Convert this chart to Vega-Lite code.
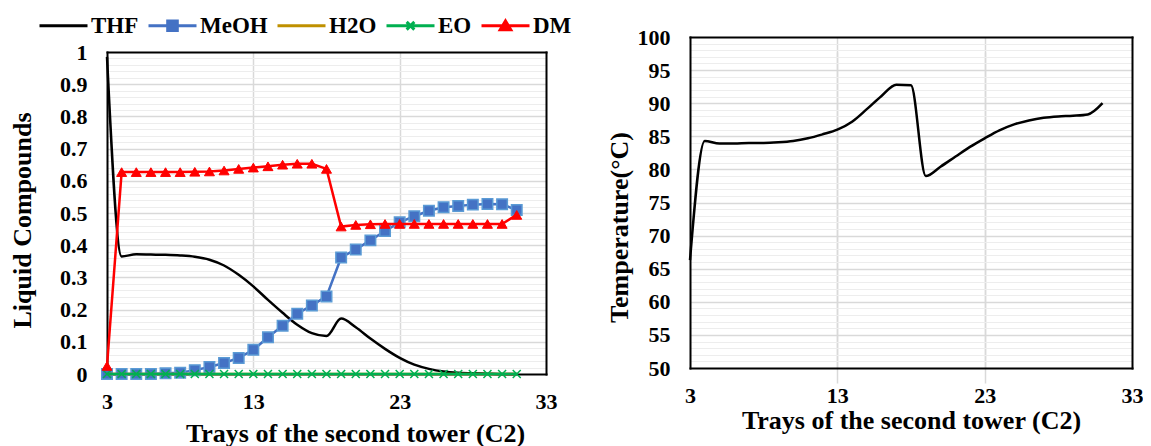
{
  "$schema": "https://vega.github.io/schema/vega-lite/v6.json",
  "background": "white",
  "padding": {"left": 9, "top": 0, "right": 0, "bottom": 0},
  "spacing": 49,
  "config": {
    "view": {"stroke": null},
    "axis": {
      "labelFont": "Liberation Serif", "labelFontWeight": "bold", "labelFontSize": 22, "labelColor": "#000000",
      "titleFont": "Liberation Serif", "titleFontWeight": "bold", "titleFontSize": 26, "titleColor": "#000000",
      "domain": false, "ticks": false, "tickSize": 0, "gridColor": "#D9D9D9", "gridWidth": 1.5,
      "labelFlush": false, "labelOverlap": false
    }
  },
  "datasets": {
    "comp": [
      {"tray":3,"series":"THF","value":0.985},{"tray":4,"series":"THF","value":0.365},{"tray":5,"series":"THF","value":0.372},{"tray":6,"series":"THF","value":0.371},{"tray":7,"series":"THF","value":0.370},{"tray":8,"series":"THF","value":0.368},{"tray":9,"series":"THF","value":0.364},{"tray":10,"series":"THF","value":0.355},{"tray":11,"series":"THF","value":0.337},{"tray":12,"series":"THF","value":0.308},{"tray":13,"series":"THF","value":0.272},{"tray":14,"series":"THF","value":0.230},{"tray":15,"series":"THF","value":0.190},{"tray":16,"series":"THF","value":0.153},{"tray":17,"series":"THF","value":0.127},{"tray":18,"series":"THF","value":0.118},{"tray":19,"series":"THF","value":0.172},{"tray":20,"series":"THF","value":0.145},{"tray":21,"series":"THF","value":0.110},{"tray":22,"series":"THF","value":0.078},{"tray":23,"series":"THF","value":0.050},{"tray":24,"series":"THF","value":0.029},{"tray":25,"series":"THF","value":0.016},{"tray":26,"series":"THF","value":0.008},{"tray":27,"series":"THF","value":0.004},{"tray":28,"series":"THF","value":0.002},{"tray":29,"series":"THF","value":0.001},{"tray":30,"series":"THF","value":0.000},{"tray":31,"series":"THF","value":0.000},
      {"tray":3,"series":"MeOH","value":0.000},{"tray":4,"series":"MeOH","value":0.000},{"tray":5,"series":"MeOH","value":0.000},{"tray":6,"series":"MeOH","value":0.000},{"tray":7,"series":"MeOH","value":0.002},{"tray":8,"series":"MeOH","value":0.004},{"tray":9,"series":"MeOH","value":0.012},{"tray":10,"series":"MeOH","value":0.022},{"tray":11,"series":"MeOH","value":0.034},{"tray":12,"series":"MeOH","value":0.050},{"tray":13,"series":"MeOH","value":0.075},{"tray":14,"series":"MeOH","value":0.114},{"tray":15,"series":"MeOH","value":0.150},{"tray":16,"series":"MeOH","value":0.187},{"tray":17,"series":"MeOH","value":0.213},{"tray":18,"series":"MeOH","value":0.241},{"tray":19,"series":"MeOH","value":0.362},{"tray":20,"series":"MeOH","value":0.387},{"tray":21,"series":"MeOH","value":0.415},{"tray":22,"series":"MeOH","value":0.444},{"tray":23,"series":"MeOH","value":0.471},{"tray":24,"series":"MeOH","value":0.490},{"tray":25,"series":"MeOH","value":0.507},{"tray":26,"series":"MeOH","value":0.518},{"tray":27,"series":"MeOH","value":0.522},{"tray":28,"series":"MeOH","value":0.526},{"tray":29,"series":"MeOH","value":0.528},{"tray":30,"series":"MeOH","value":0.527},{"tray":31,"series":"MeOH","value":0.509},
      {"tray":3,"series":"H2O","value":0},{"tray":4,"series":"H2O","value":0},{"tray":5,"series":"H2O","value":0},{"tray":6,"series":"H2O","value":0},{"tray":7,"series":"H2O","value":0},{"tray":8,"series":"H2O","value":0},{"tray":9,"series":"H2O","value":0},{"tray":10,"series":"H2O","value":0},{"tray":11,"series":"H2O","value":0},{"tray":12,"series":"H2O","value":0},{"tray":13,"series":"H2O","value":0},{"tray":14,"series":"H2O","value":0},{"tray":15,"series":"H2O","value":0},{"tray":16,"series":"H2O","value":0},{"tray":17,"series":"H2O","value":0},{"tray":18,"series":"H2O","value":0},{"tray":19,"series":"H2O","value":0},{"tray":20,"series":"H2O","value":0},{"tray":21,"series":"H2O","value":0},{"tray":22,"series":"H2O","value":0},{"tray":23,"series":"H2O","value":0},{"tray":24,"series":"H2O","value":0},{"tray":25,"series":"H2O","value":0},{"tray":26,"series":"H2O","value":0},{"tray":27,"series":"H2O","value":0},{"tray":28,"series":"H2O","value":0},{"tray":29,"series":"H2O","value":0},{"tray":30,"series":"H2O","value":0},{"tray":31,"series":"H2O","value":0},
      {"tray":3,"series":"EO","value":0},{"tray":4,"series":"EO","value":0},{"tray":5,"series":"EO","value":0},{"tray":6,"series":"EO","value":0},{"tray":7,"series":"EO","value":0},{"tray":8,"series":"EO","value":0},{"tray":9,"series":"EO","value":0},{"tray":10,"series":"EO","value":0},{"tray":11,"series":"EO","value":0},{"tray":12,"series":"EO","value":0},{"tray":13,"series":"EO","value":0},{"tray":14,"series":"EO","value":0},{"tray":15,"series":"EO","value":0},{"tray":16,"series":"EO","value":0},{"tray":17,"series":"EO","value":0},{"tray":18,"series":"EO","value":0},{"tray":19,"series":"EO","value":0},{"tray":20,"series":"EO","value":0},{"tray":21,"series":"EO","value":0},{"tray":22,"series":"EO","value":0},{"tray":23,"series":"EO","value":0},{"tray":24,"series":"EO","value":0},{"tray":25,"series":"EO","value":0},{"tray":26,"series":"EO","value":0},{"tray":27,"series":"EO","value":0},{"tray":28,"series":"EO","value":0},{"tray":29,"series":"EO","value":0},{"tray":30,"series":"EO","value":0},{"tray":31,"series":"EO","value":0},
      {"tray":3,"series":"DM","value":0.025},{"tray":4,"series":"DM","value":0.627},{"tray":5,"series":"DM","value":0.627},{"tray":6,"series":"DM","value":0.627},{"tray":7,"series":"DM","value":0.627},{"tray":8,"series":"DM","value":0.627},{"tray":9,"series":"DM","value":0.628},{"tray":10,"series":"DM","value":0.629},{"tray":11,"series":"DM","value":0.632},{"tray":12,"series":"DM","value":0.637},{"tray":13,"series":"DM","value":0.641},{"tray":14,"series":"DM","value":0.645},{"tray":15,"series":"DM","value":0.650},{"tray":16,"series":"DM","value":0.653},{"tray":17,"series":"DM","value":0.653},{"tray":18,"series":"DM","value":0.637},{"tray":19,"series":"DM","value":0.458},{"tray":20,"series":"DM","value":0.463},{"tray":21,"series":"DM","value":0.465},{"tray":22,"series":"DM","value":0.466},{"tray":23,"series":"DM","value":0.466},{"tray":24,"series":"DM","value":0.466},{"tray":25,"series":"DM","value":0.466},{"tray":26,"series":"DM","value":0.466},{"tray":27,"series":"DM","value":0.466},{"tray":28,"series":"DM","value":0.466},{"tray":29,"series":"DM","value":0.466},{"tray":30,"series":"DM","value":0.466},{"tray":31,"series":"DM","value":0.494}
    ],
    "temp": [
      {"tray":3,"t":66.3},{"tray":4,"t":84.3},{"tray":5,"t":83.9},{"tray":6,"t":83.9},{"tray":7,"t":84.0},{"tray":8,"t":84.0},{"tray":9,"t":84.1},{"tray":10,"t":84.3},{"tray":11,"t":84.7},{"tray":12,"t":85.3},{"tray":13,"t":86.0},{"tray":14,"t":87.2},{"tray":15,"t":89.1},{"tray":16,"t":91.1},{"tray":17,"t":92.8},{"tray":18,"t":92.7},{"tray":19,"t":79.0},{"tray":20,"t":80.4},{"tray":21,"t":81.9},{"tray":22,"t":83.4},{"tray":23,"t":84.7},{"tray":24,"t":85.9},{"tray":25,"t":86.8},{"tray":26,"t":87.4},{"tray":27,"t":87.8},{"tray":28,"t":88.0},{"tray":29,"t":88.1},{"tray":30,"t":88.3},{"tray":31,"t":90.0}
    ]
  },
  "hconcat": [
    {
      "width": 439,
      "height": 322,
      "data": {"name": "comp"},
      "layer": [
        {
          "transform": [{"filter": "datum.tray < 0"}],
          "mark": "point",
          "encoding": {
            "x": {"field": "tray", "type": "quantitative", "scale": {"domain": [3, 33], "nice": false},
              "axis": {"orient": "top", "labels": false, "title": null, "grid": false,
                "domain": true, "domainColor": "#000000", "domainWidth": 2, "domainCap": "square"}},
            "y": {"field": "value", "type": "quantitative", "scale": {"domain": [0, 1], "nice": false},
              "axis": {"orient": "left", "labels": false, "grid": true, "gridColor": "#EDEDED", "gridWidth": 1, "title": null,
                "values": [0.02,0.04,0.06,0.08,0.12,0.14,0.16,0.18,0.22,0.24,0.26,0.28,0.32,0.34,0.36,0.38,0.42,0.44,0.46,0.48,0.52,0.54,0.56,0.58,0.62,0.64,0.66,0.68,0.72,0.74,0.76,0.78,0.82,0.84,0.86,0.88,0.92,0.94,0.96,0.98]}}
          }
        },
        {
          "transform": [{"filter": "datum.tray < 0"}],
          "mark": "point",
          "encoding": {
            "y": {"field": "value", "type": "quantitative", "scale": {"domain": [0, 1], "nice": false},
              "axis": {"orient": "right", "labels": false, "grid": false, "title": null,
                "domain": true, "domainColor": "#000000", "domainWidth": 2, "domainCap": "square"}}
          }
        },
        {
          "encoding": {
            "x": {"field": "tray", "type": "quantitative", "scale": {"domain": [3, 33], "nice": false},
              "axis": {"orient": "bottom", "values": [3, 13, 23, 33], "labelPadding": 17, "grid": true,
                "domain": true, "domainColor": "#000000", "domainWidth": 2, "domainCap": "square",
                "gridOpacity": {"condition": {"test": "datum.value <= 3 || datum.value >= 33", "value": 0}, "value": 1},
                "title": "Trays of the second tower (C2)", "titleX": 248, "titleY": 59, "titleBaseline": "middle", "titleAlign": "center"}},
            "y": {"field": "value", "type": "quantitative", "scale": {"domain": [0, 1], "nice": false},
              "axis": {"orient": "left", "values": [0,0.1,0.2,0.3,0.4,0.5,0.6,0.7,0.8,0.9,1], "format": "~g", "labelPadding": 20, "grid": true,
                "domain": true, "domainColor": "#000000", "domainWidth": 2, "domainCap": "square",
                "gridOpacity": {"condition": {"test": "datum.value <= 0 || datum.value >= 1", "value": 0}, "value": 1},
                "title": "Liquid Compounds", "titleX": -85, "titleY": 168, "titleAngle": -90, "titleBaseline": "middle", "titleAlign": "center"}}
          },
          "layer": [
            {"transform": [{"filter": "datum.series == 'THF'"}], "mark": {"type": "line", "color": "#000000", "strokeWidth": 2.5, "interpolate": "monotone"}},
            {"transform": [{"filter": "datum.series == 'MeOH'"}], "mark": {"type": "line", "color": "#4472C4", "strokeWidth": 2.5}},
            {"transform": [{"filter": "datum.series == 'MeOH'"}], "mark": {"type": "point", "shape": "square", "filled": true, "fill": "#4472C4", "stroke": "#5B9BD5", "strokeWidth": 1.5, "size": 110, "opacity": 1}},
            {"transform": [{"filter": "datum.series == 'H2O'"}], "mark": {"type": "line", "color": "#BF9000", "strokeWidth": 2.5}},
            {"transform": [{"filter": "datum.series == 'EO'"}], "mark": {"type": "line", "color": "#00B050", "strokeWidth": 2.5}},
            {"transform": [{"filter": "datum.series == 'EO'"}], "mark": {"type": "point", "shape": "M-1,-1L1,1M1,-1L-1,1", "filled": false, "stroke": "#00B050", "strokeWidth": 1.5, "size": 64, "opacity": 1}},
            {"transform": [{"filter": "datum.series == 'DM'"}], "mark": {"type": "line", "color": "#FF0000", "strokeWidth": 2.5}},
            {"transform": [{"filter": "datum.series == 'DM'"}], "mark": {"type": "point", "shape": "triangle-up", "filled": true, "fill": "#FF0000", "stroke": "#FF0000", "strokeWidth": 1, "size": 100, "opacity": 1}},
            {
              "transform": [{"filter": "datum.tray < 0"}],
              "mark": {"type": "point", "filled": true, "strokeWidth": 3, "opacity": 1},
              "encoding": {
                "fill": {"field": "series", "type": "nominal",
                  "scale": {"domain": ["THF", "MeOH", "H2O", "EO", "DM"], "range": ["#000000", "#4472C4", "#BF9000", "#00B050", "#FF0000"]},
                  "legend": {"title": null, "orient": "none", "legendX": -69, "legendY": -52, "direction": "horizontal", "symbolSize": 2304, "symbolStrokeWidth": 3, "symbolOpacity": 1, "labelFont": "Liberation Serif", "labelFontWeight": "bold", "labelFontSize": 23, "labelColor": "#000000", "labelOffset": 2, "columnPadding": 3, "padding": 0, "labelLimit": 0}},
                "stroke": {"field": "series", "type": "nominal",
                  "scale": {"domain": ["THF", "MeOH", "H2O", "EO", "DM"], "range": ["#000000", "#4472C4", "#BF9000", "#00B050", "#FF0000"]},
                  "legend": {"title": null, "orient": "none", "legendX": -69, "legendY": -52, "direction": "horizontal", "symbolSize": 2304, "symbolStrokeWidth": 3, "symbolOpacity": 1, "labelFont": "Liberation Serif", "labelFontWeight": "bold", "labelFontSize": 23, "labelColor": "#000000", "labelOffset": 2, "columnPadding": 3, "padding": 0, "labelLimit": 0}},
                "shape": {"field": "series", "type": "nominal",
                  "scale": {"domain": ["THF", "MeOH", "H2O", "EO", "DM"], "range": ["M-1,0H1", "M-1,0H1M-0.2,-0.2H0.2V0.2H-0.2Z", "M-1,0H1", "M-1,0H1M-0.16,-0.16L0.16,0.16M0.16,-0.16L-0.16,0.16", "M-1,0H1M0,-0.2L0.22,0.17H-0.22Z"]},
                  "legend": {"title": null, "orient": "none", "legendX": -69, "legendY": -52, "direction": "horizontal", "symbolSize": 2304, "symbolStrokeWidth": 3, "symbolOpacity": 1, "labelFont": "Liberation Serif", "labelFontWeight": "bold", "labelFontSize": 23, "labelColor": "#000000", "labelOffset": 2, "columnPadding": 3, "padding": 0, "labelLimit": 0}}
              }
            }
          ]
        }
      ],
      "resolve": {"axis": {"x": "independent", "y": "independent"}}
    },
    {
      "width": 442,
      "height": 316,
      "data": {"name": "temp"},
      "layer": [
        {
          "transform": [{"filter": "datum.tray < 0"}],
          "mark": "point",
          "encoding": {
            "x": {"field": "tray", "type": "quantitative", "scale": {"domain": [3, 33], "nice": false},
              "axis": {"orient": "top", "offset": 15, "values": [3, 13, 23, 33], "labels": false, "title": null,
                "domain": true, "domainColor": "#000000", "domainWidth": 2, "domainCap": "square", "grid": true,
                "gridOpacity": {"condition": {"test": "datum.value <= 3 || datum.value >= 33", "value": 0}, "value": 1}}},
            "y": {"field": "t", "type": "quantitative", "scale": {"domain": [50, 100], "range": [316, -15], "nice": false},
              "axis": {"orient": "left", "labels": false, "grid": true, "gridColor": "#EDEDED", "gridWidth": 1, "title": null,
                "values": [51,52,53,54,56,57,58,59,61,62,63,64,66,67,68,69,71,72,73,74,76,77,78,79,81,82,83,84,86,87,88,89,91,92,93,94,96,97,98,99]}}
          }
        },
        {
          "transform": [{"filter": "datum.tray < 0"}],
          "mark": "point",
          "encoding": {
            "y": {"field": "t", "type": "quantitative", "scale": {"domain": [50, 100], "range": [316, -15], "nice": false},
              "axis": {"orient": "right", "labels": false, "grid": false, "title": null,
                "domain": true, "domainColor": "#000000", "domainWidth": 2, "domainCap": "square"}}
          }
        },
        {
          "mark": {"type": "line", "color": "#000000", "strokeWidth": 2.5, "interpolate": "monotone"},
          "encoding": {
            "x": {"field": "tray", "type": "quantitative", "scale": {"domain": [3, 33], "nice": false},
              "axis": {"orient": "bottom", "values": [3, 13, 23, 33], "labelPadding": 17, "grid": true,
                "domain": true, "domainColor": "#000000", "domainWidth": 2, "domainCap": "square",
                "gridOpacity": {"condition": {"test": "datum.value <= 3 || datum.value >= 33", "value": 0}, "value": 1},
                "title": "Trays of the second tower (C2)", "titleY": 52, "titleBaseline": "middle", "titleAlign": "center"}},
            "y": {"field": "t", "type": "quantitative", "scale": {"domain": [50, 100], "range": [316, -15], "nice": false},
              "axis": {"orient": "left", "values": [50,55,60,65,70,75,80,85,90,95,100], "format": "d", "labelPadding": 20, "grid": true,
                "domain": true, "domainColor": "#000000", "domainWidth": 2, "domainCap": "square",
                "gridOpacity": {"condition": {"test": "datum.value <= 50 || datum.value >= 100", "value": 0}, "value": 1},
                "title": "Temperature(°C)", "titleX": -71, "titleY": 175, "titleAngle": -90, "titleBaseline": "middle", "titleAlign": "center"}}
          }
        }
      ],
      "resolve": {"axis": {"x": "independent", "y": "independent"}}
    }
  ]
}
